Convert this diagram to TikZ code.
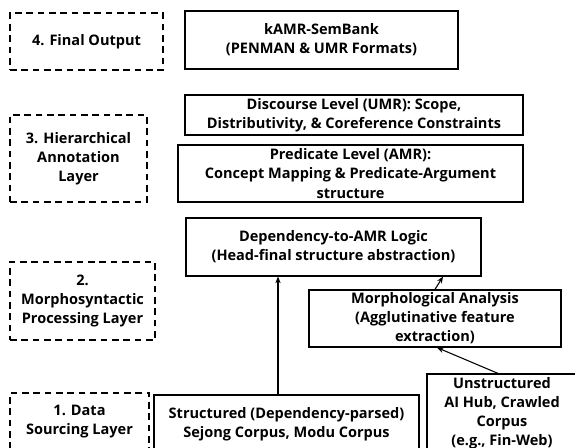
\documentclass[tikz,border=0pt]{standalone}
\usepackage{fontspec}
\setmainfont{Open Sans}
\usetikzlibrary{arrows.meta}
\begin{document}
\begin{tikzpicture}[x=0.75pt,y=-0.75pt,
  font=\bfseries\fontsize{10.9pt}{14.3pt}\selectfont,
  bx/.style 2 args={draw, line width=0.9pt, align=center, inner sep=0pt,
    minimum width=#1*0.75pt, minimum height=#2*0.75pt},
  layer/.style 2 args={bx={#1}{#2}, dash pattern=on 5pt off 3.5pt},
  arr/.style={draw, line width=0.8pt, -{Stealth[length=5pt,width=4pt]}}]
\useasboundingbox (0,0) rectangle (575,448);
\clip (0,0) rectangle (575,448);
\fill[white] (0,0) rectangle (575,448);
% layer labels
\node[layer={153}{57}] (l4) at (86.5,41.5) {4. Final Output};
\node[layer={137}{87}] (l3) at (78.5,158.5) {3. Hierarchical\\Annotation\\Layer};
\node[layer={145}{78}] (l2) at (82.5,301) {2.\\Morphosyntactic\\Processing Layer};
\node[layer={139}{58}] (l1) at (79.5,422) {1. Data\\Sourcing Layer};
% content boxes
\node[bx={273}{58}] (kamr) at (321.5,40) {kAMR-SemBank\\(PENMAN \& UMR Formats)};
\node[bx={338}{40}] (disc) at (354,115) {Discourse Level (UMR): Scope,\\Distributivity, \& Coreference Constraints};
\node[bx={345}{57}] (pred) at (350.5,173.5) {Predicate Level (AMR):\\Concept Mapping \& Predicate-Argument\\structure};
\node[bx={295}{58}] (dep) at (333.5,247) {Dependency-to-AMR Logic\\(Head-final structure abstraction)};
\node[bx={252}{57}] (morph) at (435,318.5) {Morphological Analysis\\(Agglutinative feature\\extraction)};
\node[bx={265}{59}] (struct) at (286.5,424.5) {Structured (Dependency-parsed)\\Sejong Corpus, Modu Corpus};
\node[bx={150}{78}] (unstr) at (502,413) {Unstructured\\AI Hub, Crawled\\Corpus\\(e.g., Fin-Web)};
% connectors
\draw[arr] (278,0 |- struct.north) -- (278,0 |- dep.south);
\draw[arr] (498,0 |- unstr.north) -- (437,0 |- morph.south);
\draw[arr] (435,0 |- morph.north) -- (443,0 |- dep.south);
\end{tikzpicture}
\end{document}
